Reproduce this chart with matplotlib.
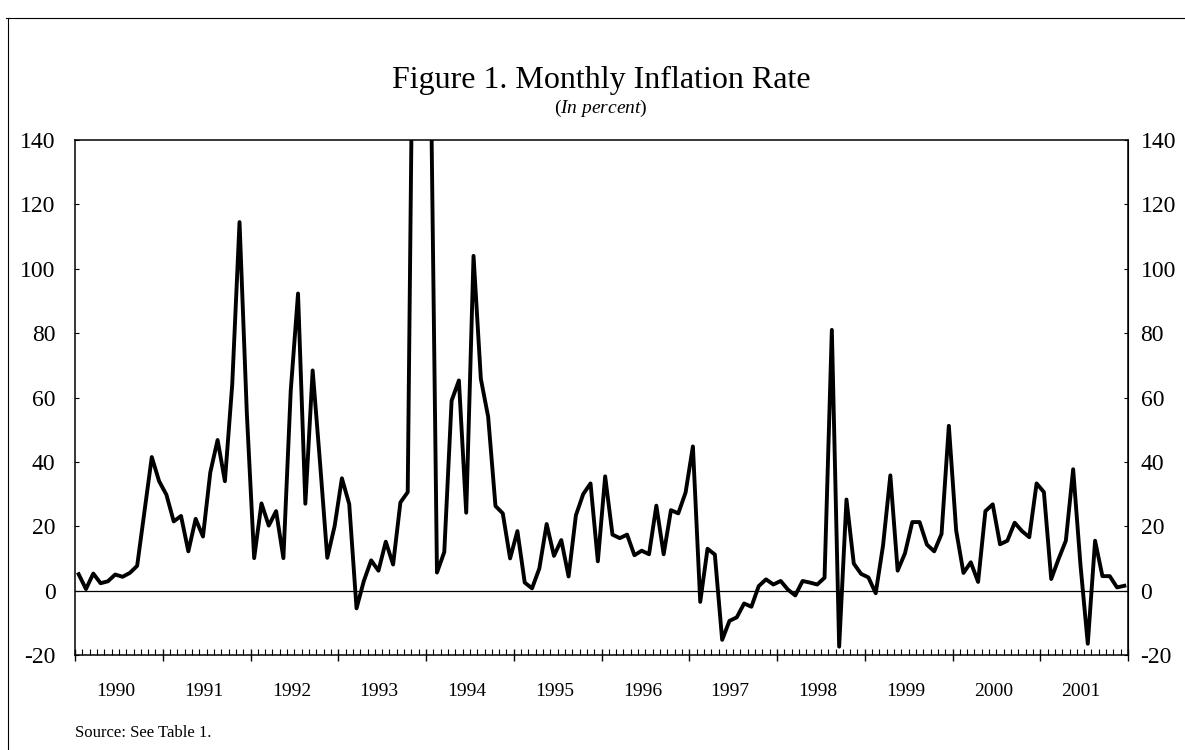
import matplotlib
matplotlib.use("Agg")
import matplotlib.pyplot as plt
import numpy as np
from matplotlib.lines import Line2D

plt.rcParams['font.family'] = ['Liberation Serif', 'DejaVu Serif']
plt.rcParams['mathtext.fontset'] = 'custom'
plt.rcParams['mathtext.rm'] = 'Liberation Serif'
plt.rcParams['mathtext.it'] = 'Liberation Serif:italic'
plt.rcParams['axes.unicode_minus'] = False

# monthly inflation, Jan 1990 .. Dec 2001 (percent); the late-1993 spike runs off the scale
years = list(range(1990, 2002))
inflation = [
    5.1, 0.5, 5.3, 2.3, 2.9, 5.0, 4.3, 5.5, 7.7, 24.5, 41.5, 34.0,      # 1990
    29.8, 21.5, 23.2, 12.2, 22.3, 16.8, 36.7, 46.8, 34.0, 64.0, 114.5, 55.0,  # 1991
    10.1, 27.1, 20.2, 24.7, 10.1, 62.0, 92.3, 27.0, 68.4, 40.0, 10.2, 20.0,   # 1992
    34.9, 26.9, -5.5, 3.0, 9.4, 6.2, 15.2, 8.1, 27.4, 30.6, 250.0, 220.0,   # 1993
    190.0, 5.6, 12.0, 59.0, 65.3, 24.2, 104.0, 65.8, 54.0, 26.3, 24.0, 10.0,  # 1994
    18.5, 2.5, 0.7, 6.9, 20.7, 10.8, 15.7, 4.4, 23.4, 30.0, 33.3, 9.1,      # 1995
    35.5, 17.4, 16.3, 17.4, 11.0, 12.4, 11.3, 26.4, 11.3, 25.0, 24.0, 30.5,  # 1996
    44.8, -3.5, 13.0, 11.2, -15.3, -9.4, -8.3, -4.0, -5.0, 1.4, 3.5, 1.9,   # 1997
    3.0, 0.3, -1.5, 3.0, 2.5, 1.9, 4.0, 81.0, -17.4, 28.3, 8.4, 5.2,        # 1998
    4.1, -0.8, 14.0, 35.8, 6.2, 11.6, 21.3, 21.3, 14.3, 12.2, 17.6, 51.2,   # 1999
    18.7, 5.5, 8.8, 2.7, 24.7, 26.8, 14.4, 15.5, 21.1, 18.5, 16.6, 33.3,    # 2000
    30.6, 3.6, 9.8, 15.5, 37.7, 8.0, -16.5, 15.5, 4.5, 4.5, 1.0, 1.5,       # 2001
]
y_ticks = list(range(-20, 141, 20))

fig = plt.figure(figsize=(11.85, 7.5), dpi=100)
ax = fig.add_axes([75 / 1185, 1 - 655 / 750, 1053 / 1185, 515 / 750])

n = len(inflation)
x = np.arange(n) + 0.5
ax.plot(x, inflation, color='black', lw=2.8, zorder=3)
ax.axhline(0, color='black', lw=0.9, zorder=2)

ax.set_xlim(0, n)
ax.set_ylim(-20, 140)
for s in ax.spines.values():
    s.set_linewidth(1.1)

# year boundaries and monthly minor ticks
ax.set_xticks(np.arange(0, n + 1, 12))
ax.set_xticks(np.arange(0, n + 1), minor=True)
ax.tick_params(axis='x', which='major', direction='inout', length=9, width=1.0, labelbottom=False)
ax.tick_params(axis='x', which='minor', direction='in', length=4, width=0.8)

ax.set_yticks(y_ticks)
ax.tick_params(axis='y', which='major', direction='in', length=3, width=0.8,
               labelsize=17, pad=14)

right = ax.secondary_yaxis('right')
right.set_yticks(y_ticks)
right.tick_params(direction='in', length=3, width=0.8, labelsize=17, pad=9)

# year labels sit inside each year span
lab = ax.secondary_xaxis('bottom')
lab.set_xticks([12 * i + 5.6 for i in range(len(years))])
lab.set_xticklabels([str(y) for y in years])
lab.tick_params(length=0, labelsize=14, pad=20)
lab.spines['bottom'].set_visible(False)

fig.text(601 / 1185, 1 - 88 / 750, 'Figure 1. Monthly Inflation Rate',
         ha='center', va='baseline', fontsize=23)
fig.text(601 / 1185, 1 - 113 / 750, r'($\mathit{In\ percent}$)',
         ha='center', va='baseline', fontsize=14)
fig.text(75 / 1185, 1 - 733 / 750, 'Source: See Table 1.',
         ha='left', va='center', fontsize=12)

# page frame from the scan
fig.add_artist(Line2D([0.005, 1.0], [1 - 18 / 750] * 2, transform=fig.transFigure,
                      color='black', lw=0.8))
fig.add_artist(Line2D([8 / 1185] * 2, [0.0, 1 - 18 / 750], transform=fig.transFigure,
                      color='black', lw=0.8))

fig.savefig('out.png', dpi=100)
